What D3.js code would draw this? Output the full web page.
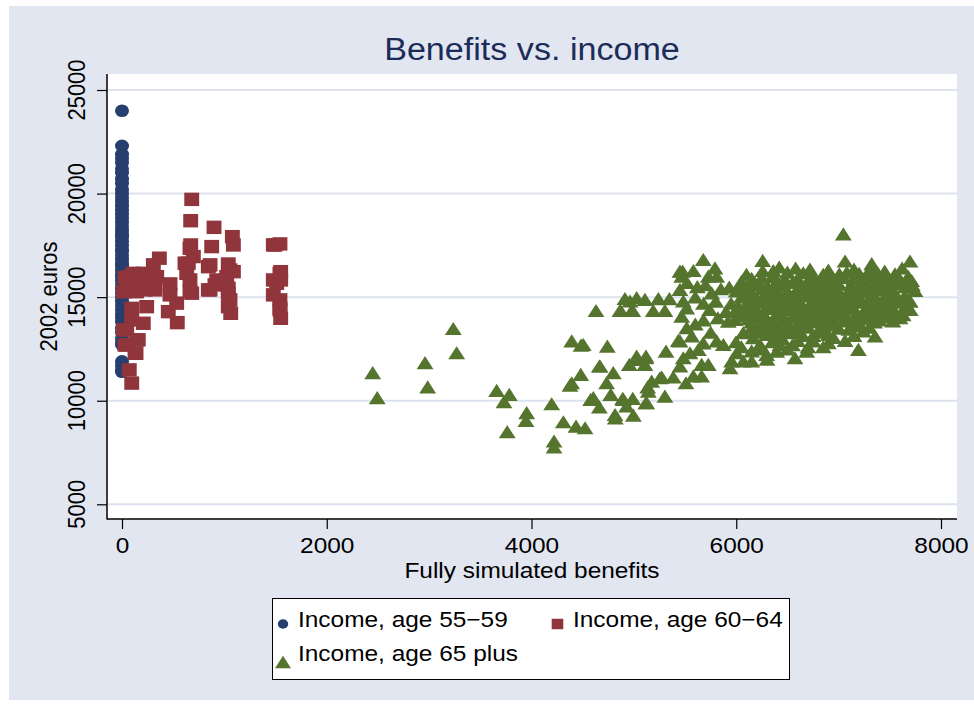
<!DOCTYPE html>
<html>
<head>
<meta charset="utf-8">
<script src="https://cdn.jsdelivr.net/npm/d3@7"></script>
<style>
  body { margin: 0; background: #ffffff; }
  text { font-family: "Liberation Sans", Arial, Helvetica, sans-serif; }
</style>
</head>
<body>
<svg id="chart" width="974" height="708"></svg>
<script>
// ---- data -------------------------------------------------------------
const chartTitle = "Benefits vs. income";
const xTitle = "Fully simulated benefits";
const yTitle = "2002 euros";
const xTicks = [0, 2000, 4000, 6000, 8000];
const yTicks = [5000, 10000, 15000, 20000, 25000];
const seriesNames = ["Income, age 55\u221259", "Income, age 60\u221264", "Income, age 65 plus"];

// [benefits, income]
const age55 = [
  [0,24000],[0,22300],[0,21900],[0,21700],[0,21500],[0,21200],[0,21000],[0,20700],
  [0,20500],[0,20200],[0,20000],[0,19800],[0,19600],[0,19400],[0,19200],[0,19000],
  [0,18800],[0,18600],[0,18400],[0,18200],[0,18000],[0,17900],[0,17700],[0,17500],
  [0,17300],[0,17200],[0,17000],[0,16800],[0,16600],[0,16500],[0,16300],[0,16100],
  [0,16000],[0,15800],[0,15600],[0,15400],[0,15200],[0,15000],[0,14800],[0,14600],
  [0,14400],[0,14200],[0,14000],[0,13800],[0,13500],[0,13300],[0,13000],[0,12800],
  [0,12700],[0,11900],[0,11700],[0,11500],[0,11400]
];

const age60 = [
  [681,19720],[671,18690],[899,18370],[1078,17920],[1088,17520],[671,17520],[1478,17520],
  [1543,17570],[876,17440],[664,17360],[365,16880],[306,16560],[615,16640],[697,16960],
  [843,16470],[1038,16600],[1088,16230],[1550,16230],[1550,15830],[1478,15830],[111,16150],
  [29,15960],[208,16150],[339,15990],[469,15640],[664,15830],[632,16150],[925,15830],
  [1023,15990],[843,15350],[681,15190],[13,15270],[127,15270],[322,15350],[225,15350],
  [469,15110],[534,14710],[452,14300],[540,13770],[241,14540],[95,14460],[1038,15190],
  [1055,14870],[1038,14540],[1062,14220],[1478,15110],[1543,14870],[1543,14380],[1550,13980],
  [208,13740],[95,13900],[13,13420],[159,12940],[29,12690],[137,12290],[71,11490],[95,10850],
  [95,16070],[257,16070],[322,15830],[29,15270],[143,12940],[46,13420],[46,12690],[127,12290],
  [648,16640],[664,15270],[860,16560],[860,15350],[908,15590],[1055,16310],[1038,15430],
  [1511,15670],[1494,17520],[1543,16150],[1543,14460],[143,15270],[257,15500],[180,15600],[50,15900]
];

const age65 = [
  // low-benefit stragglers
  [2449,11250],[2493,10040],[3236,13380],[3269,12210],[2960,11730],[2986,10560],[3660,10390],
  [3783,10200],[3731,9850],[3953,9320],[3946,8940],[3763,8400],[4197,9750],[4220,7950],
  [4220,7660],[4311,8880],[4435,8670],[4523,8590],
  // rising lower arm
  [4393,12780],[4484,12580],[4506,12610],[4630,14250],[4741,12530],[4376,10650],[4393,10760],
  [4481,11170],[4663,11570],[4669,11570],[4799,11250],[4734,10760],[4774,10200],[4604,10040],
  [4578,9960],[4663,9590],[4891,10010],[4989,10010],[4929,9640],[4897,9960],[4819,9070],
  [4995,9200],[4816,9230],[4962,14710],[4871,14250],[4989,14250],[5021,11890],[4956,11650],
  [5118,11970],[5108,11650],[5135,10560],[5118,9800],[5125,9800],[5272,11040],[5255,11005],
  [5385,11040],[5174,10840],[5141,10360],[5303,10120],[5027,12050],[5118,12050],[5314,12290],
  [5434,12810],[4913,14830],[5027,14870],[5108,14790],[5239,14820],[5347,14820],[4864,14250],
  [4978,14250],[5189,14250],[5303,14250],
  // 5400-6000 band
  [5450,16150],[5476,16150],[5581,16180],[5678,16710],[5792,16310],[5727,15910],[5809,15910],
  [5467,15910],[5450,15270],[5520,15600],[5620,15400],[5700,15500],[5760,15100],[5850,15300],
  [5932,15380],[5483,14710],[5516,14380],[5600,14900],[5680,14600],[5740,14300],[5800,14700],
  [5467,13980],[5516,13420],[5565,13020],[5450,12780],[5678,12690],[5630,12370],[5548,12210],
  [5483,11970],[5450,11570],[5662,11650],[5727,11650],[5581,11090],[5662,11090],[5509,10760],
  [5680,13800],[5600,13600],[5750,13200],[5820,13900],[5900,14200],[5922,13740],[5988,13820],
  [5809,12780],[5874,12610],[5998,12740],[5955,11810],[5939,11490],
  // main cluster
  [6258,16670],[7063,16640],[7323,16510],[7697,16640],[7046,17950],
  [6258,16180],[6362,16180],[6655,16070],[7007,16020],[7274,15990],[7388,16020],[7551,16020],
  [6500,16100],[6900,16200],[7150,16250],
  [6100,16000],[6420,16350],[6580,16300],[6720,16250],[6850,16000],[7080,16100],[7200,16050],
  [7450,16150],[7620,16300],[7320,16250],
  [6476,15750],[6753,15910],[6818,15670],[6183,15590],[7714,15700],[6600,15800],[6950,15750],
  [7150,15800],[7450,15850],[7600,15750],[6050,15650],[6350,15900],
  [6250,15850],[6400,15700],[6700,15700],[6880,15900],[7050,15850],[7250,15700],[7350,15900],
  [7520,15650],[7680,15900],[6150,15800],
  [6300,15450],[6450,15500],[6700,15400],[6900,15450],[7000,15550],[7200,15400],[7350,15500],
  [7500,15450],[7650,15400],[6550,15600],[6100,15400],
  [6050,15450],[6220,15500],[6380,15550],[6620,15450],[6780,15550],[6980,15350],[7120,15500],
  [7300,15350],[7430,15600],[7580,15550],[7720,15500],
  [6000,15200],[6150,15150],[6350,15250],[6500,15200],[6650,15150],[6800,15250],[6950,15100],
  [7100,15200],[7250,15150],[7400,15250],[7550,15100],[7746,15220],[6250,15300],[6600,15300],
  [6750,15100],
  [6080,15050],[6280,15050],[6420,15100],[6560,15000],[6880,15200],[7020,15000],[7180,15050],
  [7330,15050],[7480,15150],[7650,15000],
  [6050,14900],[6200,14850],[6400,14950],[6550,14850],[6700,14950],[6850,14900],[7000,14850],
  [7150,14950],[7300,14850],[7450,14900],[7649,14790],[6300,14800],[6900,15000],[7200,14800],
  [6120,14750],[6350,14700],[6480,14750],[6620,14700],[6780,14800],[6950,14750],[7080,14700],
  [7380,14750],[7550,14850],[7700,14700],
  [5950,14600],[6100,14550],[6250,14650],[6450,14600],[6600,14550],[6750,14650],[6900,14600],
  [7050,14550],[7200,14650],[7350,14600],[7500,14550],[7600,14650],[6350,14500],[6800,14500],
  [6020,14450],[6180,14400],[6400,14450],[6550,14400],[6850,14450],[7000,14400],[7130,14500],
  [7280,14450],[7450,14400],[7650,14450],
  [6000,14300],[6150,14250],[6300,14350],[6500,14300],[6650,14200],[6800,14300],[6950,14250],
  [7100,14350],[7250,14250],[7400,14300],[7550,14200],[7700,14300],[6400,14150],[6700,14400],
  [6080,14150],[6250,14100],[6580,14100],[6750,14100],[6880,14150],[7050,14150],[7180,14100],
  [7330,14150],[7480,14100],[7630,14050],
  [6050,14000],[6200,13950],[6400,14050],[6550,13950],[6700,14000],[6850,13900],[7000,14050],
  [7150,13950],[7300,14000],[7450,13950],[7600,13900],[6300,13850],[6900,14100],
  [6120,13850],[6480,13850],[6630,13800],[6800,13850],[6950,13800],[7100,13800],[7250,13850],
  [7400,13800],[7530,13750],
  [6150,13700],[6300,13650],[6450,13750],[6600,13650],[6750,13700],[6900,13600],[7050,13750],
  [7200,13650],[7350,13700],[6500,13550],
  [6230,13500],[6380,13600],[6680,13550],[6830,13500],[6980,13550],[7150,13500],[7300,13450],
  [6151,13420],[6350,13350],[6525,13400],[6700,13450],[6850,13300],[7000,13400],[7241,13260],
  [7100,13350],[6250,13300],
  [6180,13200],[6420,13250],[6600,13300],[6750,13050],[6950,12950],[7150,13050],[6400,13000],
  [6069,13180],[6300,13100],[6525,13180],[6650,13050],[6900,13100],[7356,13020],[6800,13200],
  [7063,12810],
  [6166,12940],[6232,12610],[6427,12610],[6753,12780],[6600,12800],[6450,12900],
  [6350,12750],[6550,12600],[6700,12500],[6900,12700],[6250,12400],[6150,12300],[6050,12500],
  [6004,12210],[6297,12130],[6395,12290],[6688,12290],[7193,12370],[6500,12400],[6850,12500],
  [6069,11810],[6151,11810],[6574,11970],[6300,11900]
];

// ---- look ---------------------------------------------------------------
const colors = ["#263f6e", "#90353b", "#55752f"];
const symbols = [d3.symbolCircle, d3.symbolSquare, d3.symbolTriangle];
const markerSize = [125, 180, 100];
const legendSize = [70, 110, 90];
const SX = 1.11;          // horizontal stretch applied to glyphs and markers
const FS = 22;            // base font size

const W = 974, H = 708;
const plot = { left: 107, right: 957, top: 74, bottom: 519 };

const svg = d3.select("#chart");

// horizontally stretch a text to SX times its natural width
function widen(sel, factor = SX) {
  sel.each(function () {
    const len = this.getComputedTextLength();
    d3.select(this).attr("textLength", len * factor).attr("lengthAdjust", "spacingAndGlyphs");
  });
  return sel;
}

// page + graph background
svg.append("rect").attr("x", 0).attr("y", 0).attr("width", W).attr("height", H).attr("fill", "#ffffff");
svg.append("rect").attr("x", 9).attr("y", 6).attr("width", W - 9).attr("height", 694).attr("fill", "#e1e6f0");

// plot region
svg.append("rect")
  .attr("x", plot.left).attr("y", plot.top)
  .attr("width", plot.right - plot.left).attr("height", plot.bottom - plot.top)
  .attr("fill", "#ffffff");

const x = d3.scaleLinear().domain([0, 8000]).range([122, 941]);
const y = d3.scaleLinear().domain([5000, 25000]).range([504.3, 90]);

// horizontal grid
svg.append("g").selectAll("line").data(yTicks).join("line")
  .attr("x1", plot.left + 1).attr("x2", plot.right)
  .attr("y1", d => y(d)).attr("y2", d => y(d))
  .attr("stroke", "#dde2ee").attr("stroke-width", 2);

// y axis: ticks from d3, rotated labels drawn alongside
const yAxis = svg.append("g")
  .attr("transform", `translate(${plot.left},0)`)
  .call(d3.axisLeft(y).tickValues(yTicks).tickFormat(d3.format("d")).tickSize(10).tickSizeOuter(0));
yAxis.select(".domain").remove();
yAxis.selectAll(".tick line").attr("stroke", "#000").attr("stroke-width", 1.2);
yAxis.selectAll(".tick text").remove();
svg.append("g").selectAll("text").data(yTicks).join("text")
  .attr("transform", d => `translate(${plot.left - 22},${y(d)}) scale(${SX},1) rotate(-90)`)
  .attr("text-anchor", "middle").attr("font-size", FS).attr("fill", "#000")
  .text(d3.format("d"));

// x axis
const xAxis = svg.append("g")
  .attr("transform", `translate(0,${plot.bottom})`)
  .call(d3.axisBottom(x).tickValues(xTicks).tickFormat(d3.format("d")).tickSize(10).tickSizeOuter(0));
xAxis.select(".domain").remove();
xAxis.selectAll(".tick line").attr("stroke", "#000").attr("stroke-width", 1.2);
widen(xAxis.selectAll(".tick text").attr("font-size", FS).attr("fill", "#000").attr("y", 34).attr("dy", 0));

// axis lines
svg.append("line").attr("x1", plot.left).attr("x2", plot.left).attr("y1", plot.top).attr("y2", plot.bottom + 0.5)
  .attr("stroke", "#000").attr("stroke-width", 1.5);
svg.append("line").attr("x1", plot.left).attr("x2", plot.right).attr("y1", plot.bottom).attr("y2", plot.bottom)
  .attr("stroke", "#000").attr("stroke-width", 1.5);

// titles
widen(svg.append("text").attr("x", (plot.left + plot.right) / 2).attr("y", 60)
  .attr("text-anchor", "middle").attr("font-size", 31).attr("fill", "#1c2c58").text(chartTitle), 1.1);
widen(svg.append("text").attr("x", (plot.left + plot.right) / 2).attr("y", 578)
  .attr("text-anchor", "middle").attr("font-size", FS).attr("fill", "#000").text(xTitle));
svg.append("text")
  .attr("transform", `translate(57,${(plot.top + plot.bottom) / 2}) scale(${SX},1) rotate(-90)`)
  .attr("text-anchor", "middle").attr("font-size", FS).attr("fill", "#000").text(yTitle);

// points
const allSeries = [age55, age60, age65];
allSeries.forEach((data, i) => {
  const sym = d3.symbol().type(symbols[i]).size(markerSize[i]);
  svg.append("g").selectAll("path").data(data).join("path")
    .attr("d", sym)
    .attr("transform", d => `translate(${x(d[0])},${y(d[1])}) scale(${SX},1)`)
    .attr("fill", colors[i]);
});

// legend
const legend = svg.append("g");
legend.append("rect").attr("x", 272.5).attr("y", 598.5).attr("width", 517).attr("height", 81)
  .attr("fill", "#ffffff").attr("stroke", "#000").attr("stroke-width", 1);
const legendPos = [[283, 624, 298, 627], [557.5, 624, 573, 627], [283, 664, 298, 661]];
seriesNames.forEach((name, i) => {
  const [mx, my, tx, ty] = legendPos[i];
  legend.append("path")
    .attr("d", d3.symbol().type(symbols[i]).size(legendSize[i]))
    .attr("transform", `translate(${mx},${my}) scale(${SX},1)`)
    .attr("fill", colors[i]);
  widen(legend.append("text").attr("x", tx).attr("y", ty).attr("font-size", FS).attr("fill", "#000").text(name));
});
</script>
</body>
</html>
